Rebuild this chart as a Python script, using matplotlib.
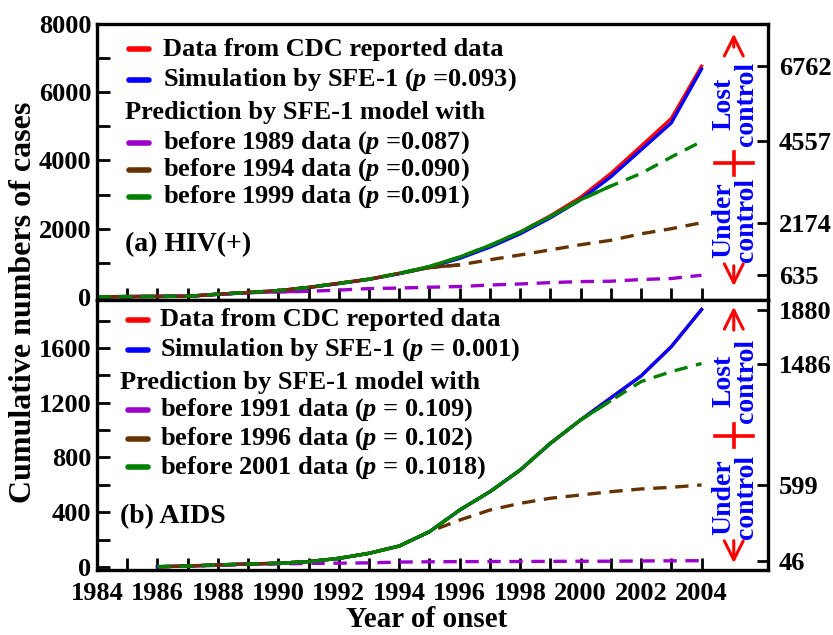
import matplotlib
matplotlib.use("Agg")
import matplotlib.pyplot as plt

plt.rcParams['font.family'] = ['Liberation Serif', 'DejaVu Serif']
plt.rcParams['font.weight'] = 'bold'
plt.rcParams['mathtext.fontset'] = 'custom'
plt.rcParams['mathtext.it'] = 'Liberation Serif:italic:bold'
plt.rcParams['mathtext.rm'] = 'Liberation Serif:bold'

RED = '#ff0000'
BLUE = '#0000ff'
PURPLE = '#9900cc'
BROWN = '#663300'
GREEN = '#008000'

# (a) HIV(+) cumulative cases, 1984-2004
hiv_years = list(range(1984, 2005))
hiv_cdc = [5, 10, 15, 20, 80, 130, 185, 280, 400, 520, 690, 890, 1160, 1500,
           1900, 2380, 2920, 3620, 4420, 5230, 6762]
hiv_sim = [5, 10, 15, 20, 75, 125, 180, 275, 390, 515, 680, 870, 1130, 1460,
           1850, 2320, 2850, 3520, 4310, 5100, 6680]
hiv_pred_1989 = [5, 10, 15, 20, 80, 125, 150, 165, 200, 245, 260, 285, 305, 350,
                 380, 420, 450, 460, 510, 540, 635]
hiv_pred_1994 = [5, 10, 15, 20, 80, 130, 185, 280, 400, 520, 690, 860, 940, 1090,
                 1230, 1380, 1530, 1660, 1850, 2000, 2174]
hiv_pred_1999 = [5, 10, 15, 20, 80, 130, 185, 280, 400, 520, 690, 890, 1170, 1510,
                 1900, 2360, 2850, 3250, 3620, 4100, 4557]

# (b) AIDS cumulative cases, 1986-2004
aids_years = list(range(1986, 2005))
aids_cdc = [2, 7, 15, 22, 27, 39, 63, 100, 153, 258, 416, 550, 708, 903, 1074,
            1235, 1395, 1609, 1880]
aids_sim = [2, 7, 15, 22, 27, 39, 63, 100, 153, 258, 416, 550, 708, 903, 1074,
            1235, 1395, 1609, 1880]
aids_pred_1991 = [2, 5, 12, 18, 22, 26, 28, 30, 36, 38, 39, 40, 40, 41, 42, 42,
                  44, 45, 46]
aids_pred_1996 = [2, 7, 15, 22, 27, 39, 63, 100, 153, 258, 343, 416, 465, 502,
                  526, 550, 570, 582, 599]
aids_pred_2001 = [2, 7, 15, 22, 27, 39, 63, 100, 153, 258, 416, 550, 708, 903,
                  1074, 1215, 1354, 1427, 1486]

hiv_labels = ['Data from CDC reported data',
              'Simulation by SFE-1 ($p$ =0.093)',
              'Prediction by SFE-1 model with',
              'before 1989 data ($p$ =0.087)',
              'before 1994 data ($p$ =0.090)',
              'before 1999 data ($p$ =0.091)']
aids_labels = ['Data from CDC reported data',
               'Simulation by SFE-1 ($p$ = 0.001)',
               'Prediction by SFE-1 model with',
               'before 1991 data ($p$ = 0.109)',
               'before 1996 data ($p$ = 0.102)',
               'before 2001 data ($p$ = 0.1018)']

LW = 2.4
DASH = (4, 2.6)


def draw_prediction(ax, x, y, color, solid_from, solid_to):
    # dashed over the whole range, solid over the fitted stretch
    ax.plot(x, y, color=color, lw=LW, dashes=DASH)
    xs = [a for a in x if solid_from <= a <= solid_to]
    ys = [b for a, b in zip(x, y) if solid_from <= a <= solid_to]
    if len(xs) > 1:
        ax.plot(xs, ys, color=color, lw=LW, solid_capstyle='butt')


def draw_key(ax, labels, rows, x_line, x_text, x_head):
    colors = [RED, BLUE, None, PURPLE, BROWN, GREEN]
    for lab, col, y in zip(labels, colors, rows):
        if col is None:
            ax.text(x_head, y, lab, transform=ax.transAxes, fontsize=19,
                    va='center', ha='left')
        else:
            ax.plot(x_line, [y, y], color=col, lw=4, transform=ax.transAxes,
                    solid_capstyle='round')
            ax.text(x_text, y, lab, transform=ax.transAxes, fontsize=19,
                    va='center', ha='left')


def draw_control(ax, y_up, y_plus, y_down, y_lost, y_under):
    x = 0.949
    arrow = dict(arrowstyle='->', color=RED, lw=2.2, mutation_scale=34)
    ax.annotate('', xy=(x, y_up[1]), xytext=(x, y_up[0]),
                xycoords='axes fraction', arrowprops=arrow)
    ax.annotate('', xy=(x, y_down[1]), xytext=(x, y_down[0]),
                xycoords='axes fraction', arrowprops=arrow)
    ax.plot([0.921, 0.978], [y_plus, y_plus], color=RED, lw=2.6,
            transform=ax.transAxes, clip_on=False)
    ax.plot([x, x], [y_plus - 0.042, y_plus + 0.042], color=RED, lw=2.6,
            transform=ax.transAxes, clip_on=False)
    ax.text(0.951, y_lost, 'Lost\ncontrol', transform=ax.transAxes,
            rotation=90, color=BLUE, fontsize=20, ha='center', va='center',
            linespacing=0.9)
    ax.text(0.951, y_under, 'Under\ncontrol', transform=ax.transAxes,
            rotation=90, color=BLUE, fontsize=20, ha='center', va='center',
            linespacing=0.9)


def style_axes(ax, right_ticks):
    for s in ax.spines.values():
        s.set_linewidth(2.4)
    ax.set_xlim(1984, 2006.2)
    ax.set_xticks(hiv_years)
    ax.tick_params(axis='both', which='both', direction='in', width=2,
                   labelsize=19, pad=4)
    ax.tick_params(axis='x', length=9)
    ax.tick_params(axis='y', which='major', length=9)
    ax.tick_params(axis='y', which='minor', length=9)
    ax.tick_params(axis='y', right=False)
    twin = ax.twinx()
    twin.set_ylim(ax.get_ylim())
    twin.set_yticks(right_ticks)
    twin.set_yticklabels([str(v) for v in right_ticks])
    twin.tick_params(axis='y', direction='in', length=8, width=2,
                     labelsize=19, pad=8)
    for s in twin.spines.values():
        s.set_visible(False)
    return twin


fig = plt.figure(figsize=(8.33, 6.35), dpi=100)
left, right = 97 / 833, 768 / 833
ax1 = fig.add_axes([left, 1 - 300 / 635, right - left, 276 / 635])
ax2 = fig.add_axes([left, 1 - 570 / 635, right - left, 270 / 635])

# top panel: HIV(+)
ax1.plot(hiv_years, hiv_cdc, color=RED, lw=LW)
ax1.plot(hiv_years, hiv_sim, color=BLUE, lw=LW)
draw_prediction(ax1, hiv_years, hiv_pred_1989, PURPLE, 1984, 1991)
draw_prediction(ax1, hiv_years, hiv_pred_1994, BROWN, 1984, 1996)
draw_prediction(ax1, hiv_years, hiv_pred_1999, GREEN, 1994, 2001)
ax1.set_ylim(-90, 8000)
ax1.set_yticks([0, 2000, 4000, 6000, 8000])
ax1.set_yticks([1000, 3000, 5000, 7000], minor=True)
style_axes(ax1, [hiv_pred_1989[-1], hiv_pred_1994[-1],
                 hiv_pred_1999[-1], hiv_cdc[-1]])
ax1.set_xticklabels([])
draw_key(ax1, hiv_labels, [0.909, 0.797, 0.678, 0.569, 0.471, 0.373],
         [0.048, 0.078], 0.098, 0.042)
ax1.text(0.042, 0.199, '(a) HIV(+)', transform=ax1.transAxes, fontsize=20,
         va='center', ha='left')
draw_control(ax1, (0.906, 0.975), 0.496, (0.134, 0.040), 0.71, 0.29)

# bottom panel: AIDS
ax2.plot(aids_years, aids_cdc, color=RED, lw=LW)
ax2.plot(aids_years, aids_sim, color=BLUE, lw=LW)
draw_prediction(ax2, aids_years, aids_pred_1991, PURPLE, 1986, 1986)
draw_prediction(ax2, aids_years, aids_pred_1996, BROWN, 1986, 1995)
draw_prediction(ax2, aids_years, aids_pred_2001, GREEN, 1990, 2001)
ax2.set_ylim(-22, 1950)
ax2.set_yticks([0, 400, 800, 1200, 1600])
ax2.set_yticks([200, 600, 1000, 1400, 1800], minor=True)
style_axes(ax2, [aids_pred_1991[-1], aids_pred_1996[-1],
                 aids_pred_2001[-1], aids_sim[-1]])
ax2.set_xticklabels([str(y) if y % 2 == 0 else '' for y in hiv_years])
ax2.tick_params(axis='x', pad=9)
draw_key(ax2, aids_labels, [0.926, 0.815, 0.696, 0.593, 0.485, 0.381],
         [0.046, 0.076], 0.094, 0.034)
ax2.text(0.034, 0.196, '(b) AIDS', transform=ax2.transAxes, fontsize=20,
         va='center', ha='left')
draw_control(ax2, (0.878, 0.985), 0.497, (0.119, 0.015), 0.70, 0.27)

fig.text(0.512, 0.024, 'Year of onset', fontsize=21, ha='center', va='center')
fig.text(0.028, 0.524, 'Cumulative numbers of cases', fontsize=23,
         rotation=90, ha='center', va='center')

fig.savefig('out.png', dpi=100)
